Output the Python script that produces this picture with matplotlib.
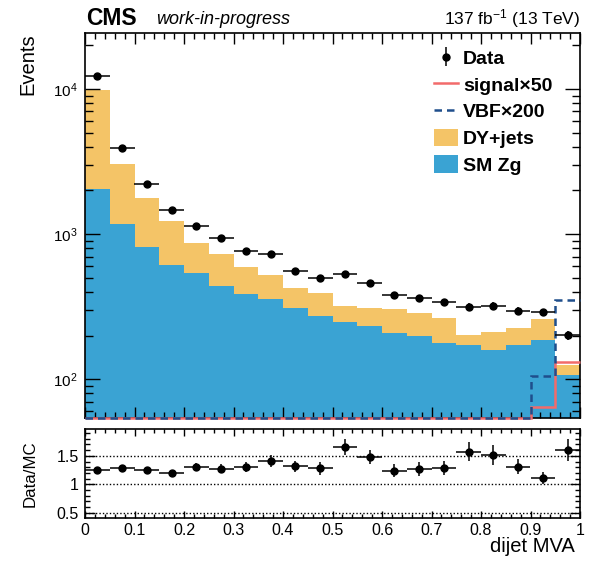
import numpy as np
import matplotlib.pyplot as plt
from matplotlib.lines import Line2D
from matplotlib.patches import Patch
from matplotlib.ticker import MultipleLocator, LogLocator, NullFormatter, FuncFormatter

plt.rcParams['font.family'] = ['Liberation Sans', 'DejaVu Sans']
plt.rcParams['mathtext.fontset'] = 'custom'
plt.rcParams['mathtext.rm'] = 'Liberation Sans'
plt.rcParams['mathtext.it'] = 'Liberation Sans:italic'
plt.rcParams['mathtext.bf'] = 'Liberation Sans:bold'

# dijet MVA binning, 20 bins in [0, 1]
edges = np.linspace(0.0, 1.0, 21)

# yields per bin
sm_zg = np.array([2060, 1172, 809, 611, 541, 442, 387, 358, 311, 274,
                  249, 233, 208, 200, 178, 171, 159, 171, 187, 107])
dy_jets = np.array([7720, 1883, 969, 611, 330, 289, 205, 166, 116, 118,
                    73, 78, 97, 87, 87, 31, 53, 56, 74, 19])
data = np.array([12200, 3950, 2213, 1455, 1135, 933, 767, 735, 561, 502,
                 535, 459, 378, 364, 341, 317, 320, 297, 290, 202])
signal_x50 = np.array([30, 24, 20, 17, 15, 14, 13, 12, 12, 11,
                       11, 11, 12, 12, 13, 15, 19, 30, 64.7, 132])
vbf_x200 = np.array([3, 3, 3, 4, 4, 4, 5, 5, 6, 6,
                     7, 8, 9, 11, 13, 16, 22, 40, 105, 352])
# total uncertainty on data/MC
ratio_err = np.array([0.04, 0.04, 0.04, 0.045, 0.065, 0.075, 0.088, 0.105, 0.10, 0.11,
                      0.14, 0.126, 0.117, 0.123, 0.123, 0.167, 0.172, 0.13, 0.108, 0.19])

c_dy = '#f4c467'
c_zg = '#3aa3d3'
c_sig = '#f26b6b'
c_vbf = '#1f4e8c'

ymin, ymax = 54.5, 24300

centers = 0.5 * (edges[1:] + edges[:-1])
half = 0.5 * np.diff(edges)
mc_total = sm_zg + dy_jets
ratio = data / mc_total

fig = plt.figure(figsize=(5.94, 5.61), dpi=100)
ax = fig.add_axes([85 / 594, 1 - 417.5 / 561, 495 / 594, 384.5 / 561])
rax = fig.add_axes([85 / 594, 43 / 561, 495 / 594, 89 / 561])

# stacked backgrounds
ax.stairs(mc_total, edges, baseline=1, fill=True, color=c_dy, lw=0, zorder=1)
ax.stairs(sm_zg, edges, baseline=1, fill=True, color=c_zg, lw=0, zorder=1.1)

# scaled signals, pinned to the frame bottom when below range
ax.stairs(np.maximum(signal_x50, ymin), edges, baseline=None, color=c_sig,
          lw=1.8, zorder=3, clip_on=False)
ax.stairs(np.maximum(vbf_x200, ymin), edges, baseline=None, color=c_vbf,
          lw=1.8, ls=(0, (3, 2)), zorder=3.1, clip_on=False)

ax.errorbar(centers, data, xerr=half, yerr=np.sqrt(data), fmt='o', color='k',
            ms=5, elinewidth=1.1, capsize=0, zorder=4)
data_proxy = ax.errorbar([0.5], [1e-3], yerr=[1e-4], fmt='o', color='k',
                         ms=5, elinewidth=1.1, capsize=0)

ax.set_yscale('log')
ax.set_xlim(0, 1)
ax.set_ylim(ymin, ymax)
ax.xaxis.set_major_locator(MultipleLocator(0.1))
ax.xaxis.set_minor_locator(MultipleLocator(0.02))
ax.yaxis.set_minor_locator(LogLocator(subs=np.arange(2, 10)))
ax.yaxis.set_minor_formatter(NullFormatter())
ax.tick_params(which='both', direction='in', top=True, right=True,
               labelbottom=False, labelsize=11, width=1)
ax.tick_params(axis='x', which='major', length=8)
ax.tick_params(axis='x', which='minor', length=4)
ax.tick_params(axis='y', which='major', length=11, pad=5.5)
ax.tick_params(axis='y', which='minor', length=5.5)
ax.set_ylabel('Events', fontsize=14.5, loc='top')
ax.yaxis.set_label_coords(-0.096, 1.0)

handles = [
    data_proxy,
    Line2D([], [], color=c_sig, lw=1.8),
    Line2D([], [], color=c_vbf, lw=1.8, ls=(0, (3, 2))),
    Patch(facecolor=c_dy, edgecolor='none'),
    Patch(facecolor=c_zg, edgecolor='none'),
]
labels = ['Data', 'signal\u00d750', 'VBF\u00d7200', 'DY+jets', 'SM Zg']
ax.legend(handles, labels, loc='upper left',
          bbox_to_anchor=(434 / 594, 1 - 49 / 561), bbox_transform=fig.transFigure,
          frameon=False, borderpad=0, borderaxespad=0, numpoints=1,
          handlelength=1.24, handleheight=1.0, handletextpad=0.26,
          labelspacing=0.37, prop={'weight': 'bold', 'size': 14})

# ratio panel
for v in (0.5, 1.0, 1.5):
    rax.axhline(v, color='k', lw=1, ls=(0, (1, 1.5)), zorder=1)
rax.errorbar(centers, ratio, xerr=half, yerr=ratio_err, fmt='o', color='k',
             ms=5, elinewidth=1.1, capsize=0, zorder=3)
rax.set_xlim(0, 1)
rax.set_ylim(0.41, 1.97)
rax.xaxis.set_major_locator(MultipleLocator(0.1))
rax.xaxis.set_minor_locator(MultipleLocator(0.02))
rax.xaxis.set_major_formatter(FuncFormatter(lambda v, p: '%g' % round(v, 2)))
rax.yaxis.set_major_locator(MultipleLocator(0.5))
rax.yaxis.set_minor_locator(MultipleLocator(0.1))
rax.yaxis.set_major_formatter(FuncFormatter(lambda v, p: '%g' % v))
rax.tick_params(which='both', direction='in', top=True, right=True,
                labelsize=11.5, width=1)
rax.tick_params(axis='x', which='major', length=5, pad=3.5)
rax.tick_params(axis='x', which='minor', length=3)
rax.tick_params(axis='y', which='major', length=7, pad=4.3)
rax.tick_params(axis='y', which='minor', length=3.5)
rax.set_ylabel('Data/MC', fontsize=12.2)
rax.yaxis.set_label_coords(-0.096, 0.5)
rax.set_xlabel('dijet MVA', fontsize=14.5, loc='right')
rax.xaxis.set_label_coords(0.99, -0.215)

for a in (ax, rax):
    for s in a.spines.values():
        s.set_linewidth(1.2)

fig.text(86 / 594, 1 - 25 / 561, 'CMS', weight='bold', size=16.5, va='baseline')
fig.text(156 / 594, 1 - 23.5 / 561, 'work-in-progress', style='italic', size=13,
         va='baseline')
fig.text(580 / 594, 1 - 24 / 561, r'137 fb$^{-1}$ (13 TeV)', size=12.5,
         ha='right', va='baseline')

fig.savefig('out.png', dpi=100)
